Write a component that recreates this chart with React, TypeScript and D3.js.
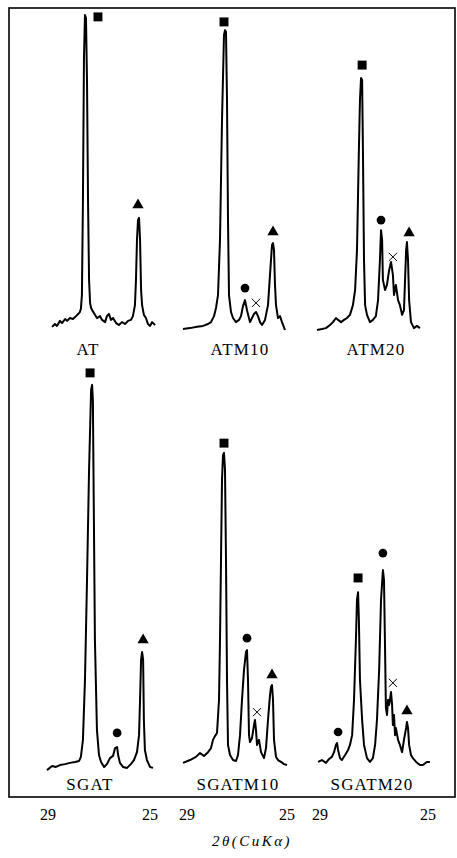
import React from "react";
import * as d3 from "d3";

// traces: [2θ (deg), intensity (a.u.)]
const AT = [[28.84,1.0],[28.73,1.9],[28.65,1.3],[28.53,2.9],[28.45,2.2],[28.33,3.5],[28.25,2.9],[28.14,3.8],[28.02,3.5],[27.90,4.4],[27.78,5.4],[27.75,5.7],[27.71,6.7],[27.67,11.1],[27.63,41],[27.59,86],[27.55,100],[27.51,99],[27.47,79],[27.43,41],[27.39,16],[27.35,8.6],[27.31,7.0],[27.27,6.3],[27.20,5.4],[27.08,3.8],[26.96,4.4],[26.88,3.2],[26.76,2.5],[26.69,4.4],[26.61,5.1],[26.53,3.2],[26.45,3.8],[26.33,2.2],[26.22,1.6],[26.10,2.5],[25.98,1.9],[25.86,2.9],[25.75,3.2],[25.67,4.4],[25.59,7.9],[25.55,15.9],[25.51,28.6],[25.47,34.9],[25.43,35.6],[25.39,28.6],[25.35,12.7],[25.31,7.9],[25.24,4.8],[25.16,3.8],[25.08,1.9],[25.00,1.3],[24.92,2.5],[24.80,1.6]];
const ATM10 = [[29.16,0.3],[28.88,0.6],[28.60,1.0],[28.36,1.3],[28.16,1.9],[28.04,2.5],[27.92,4.4],[27.84,7.0],[27.76,11.1],[27.68,28.6],[27.60,66.7],[27.52,93.7],[27.48,95.2],[27.44,94.6],[27.40,73.0],[27.36,34.9],[27.32,11.1],[27.24,5.7],[27.16,3.8],[27.04,2.5],[26.92,3.2],[26.84,4.4],[26.76,7.6],[26.68,9.5],[26.60,6.3],[26.48,2.5],[26.40,3.8],[26.32,5.1],[26.24,5.7],[26.16,4.4],[26.08,2.5],[26.00,1.6],[25.88,3.2],[25.76,7.9],[25.68,17.5],[25.60,27.0],[25.56,27.6],[25.52,25.4],[25.48,14.3],[25.44,7.9],[25.36,3.8],[25.28,4.4],[25.20,2.5],[25.08,0]];
const ATM20 = [[29.11,0],[28.93,0.3],[28.78,0.6],[28.63,1.6],[28.52,2.5],[28.41,3.8],[28.33,3.2],[28.22,2.5],[28.11,3.2],[28.00,3.8],[27.89,4.8],[27.78,7.9],[27.70,12.7],[27.63,25.4],[27.56,57.1],[27.52,73.0],[27.48,80.0],[27.44,79.4],[27.41,57.1],[27.37,22.2],[27.33,7.9],[27.26,4.8],[27.15,2.5],[27.04,3.2],[26.93,4.4],[26.85,9.5],[26.78,22.2],[26.74,31.7],[26.70,28.6],[26.67,15.9],[26.59,12.7],[26.52,14.3],[26.44,19.0],[26.37,21.6],[26.30,17.5],[26.26,11.1],[26.19,14.3],[26.11,9.5],[26.04,7.9],[25.96,4.8],[25.89,6.3],[25.85,15.9],[25.81,25.4],[25.78,27.9],[25.74,22.2],[25.70,9.5],[25.63,2.5],[25.52,0.6],[25.41,1.3],[25.30,0.6]];
const SGAT = [[29.04,0.6],[28.84,1.9],[28.69,1.6],[28.53,2.2],[28.33,2.5],[28.14,2.9],[27.94,3.2],[27.78,3.5],[27.71,4.8],[27.63,10.2],[27.55,29.2],[27.47,60.9],[27.39,95.9],[27.31,121.3],[27.27,122.9],[27.24,118.1],[27.20,80.0],[27.16,41.9],[27.08,13.3],[27.00,5.4],[26.92,3.2],[26.80,1.6],[26.69,2.5],[26.57,4.4],[26.45,5.1],[26.37,7.6],[26.29,7.9],[26.25,5.4],[26.18,2.9],[26.06,1.6],[25.90,1.3],[25.75,2.5],[25.63,3.8],[25.51,6.3],[25.43,11.7],[25.39,22.9],[25.35,35.6],[25.31,38.1],[25.27,35.6],[25.24,16.5],[25.20,7.0],[25.12,3.8],[25.00,1.6],[24.88,1.3]];
const SGATM10 = [[29.16,2.9],[28.88,3.8],[28.64,4.8],[28.48,6.0],[28.32,5.1],[28.16,6.3],[28.04,7.6],[27.96,10.2],[27.88,11.4],[27.80,12.4],[27.72,22.9],[27.68,41.9],[27.64,67.3],[27.60,92.7],[27.56,100.6],[27.52,101.3],[27.48,95.9],[27.44,67.3],[27.40,29.2],[27.36,8.6],[27.28,5.4],[27.16,3.8],[27.04,3.5],[26.96,5.4],[26.88,11.7],[26.80,22.9],[26.72,32.4],[26.64,38.1],[26.60,38.7],[26.56,29.2],[26.52,11.7],[26.48,9.5],[26.40,10.8],[26.32,14.9],[26.28,16.5],[26.24,13.3],[26.20,8.6],[26.12,10.2],[26.04,6.3],[25.92,4.4],[25.84,7.6],[25.76,16.5],[25.68,24.4],[25.64,27.0],[25.60,27.6],[25.56,22.9],[25.52,10.2],[25.44,4.8],[25.36,3.8],[25.24,3.2],[25.12,2.5],[25.00,2.2]];
const SGATM20 = [[29.07,3.2],[28.93,3.8],[28.78,2.9],[28.67,4.1],[28.56,4.8],[28.48,6.3],[28.41,8.6],[28.37,9.2],[28.33,7.0],[28.26,4.4],[28.19,3.8],[28.07,5.4],[27.96,7.0],[27.89,8.6],[27.81,11.7],[27.74,22.9],[27.67,41.9],[27.63,54.6],[27.59,57.1],[27.56,48.3],[27.52,29.2],[27.44,16.5],[27.37,8.6],[27.26,4.4],[27.15,3.2],[27.04,4.4],[26.96,8.6],[26.89,16.5],[26.81,32.4],[26.74,54.6],[26.67,64.1],[26.63,61.0],[26.59,38.7],[26.56,20.6],[26.52,18.1],[26.48,22.9],[26.44,21.3],[26.41,22.9],[26.37,25.4],[26.33,21.3],[26.30,14.9],[26.26,18.1],[26.22,11.7],[26.19,14.0],[26.11,10.2],[26.04,8.6],[25.96,6.3],[25.89,10.2],[25.81,14.0],[25.78,15.9],[25.74,14.0],[25.70,8.6],[25.63,5.4],[25.56,4.4],[25.44,3.2],[25.30,2.2],[25.19,2.2],[25.04,3.2],[24.93,3.2]];

// phase markers: [symbol, 2θ, intensity]
const AT_MARKS = [["square",27.04,99.4],["triangle",25.47,39.7]];
const ATM10_MARKS = [["square",27.52,97.8],["circle",26.68,13.3],["cross",26.24,8.6],["triangle",25.56,31.1]];
const ATM20_MARKS = [["square",27.44,84.1],["circle",26.74,34.9],["cross",26.30,23.2],["triangle",25.70,30.8]];
const SGAT_MARKS = [["square",27.35,126.7],["circle",26.29,12.4],["triangle",25.27,41.9]];
const SGATM10_MARKS = [["square",27.52,104.4],["circle",26.60,42.5],["cross",26.20,19.0],["triangle",25.60,30.8]];
const SGATM20_MARKS = [["circle",28.33,12.7],["square",27.59,61.6],["circle",26.67,69.5],["cross",26.30,28.3],["triangle",25.78,19.4]];

const SAMPLE_NAMES = ["AT", "ATM10", "ATM20", "SGAT", "SGATM10", "SGATM20"];
const TRACES = [AT, ATM10, ATM20, SGAT, SGATM10, SGATM20];
const MARKS = [AT_MARKS, ATM10_MARKS, ATM20_MARKS, SGAT_MARKS, SGATM10_MARKS, SGATM20_MARKS];
const TICKS = [29, 25];
const AXIS_TITLE = "2θ(CuKα)";

const W = 457, H = 858;
const COLS = [[48, 150], [187, 287], [320, 428]];
const BASES = [330, 772];
const LABEL_Y = [355, 790];
const LABEL_X = [88, 240, 376, 90, 238, 372];
const FONT = "'Liberation Serif', 'DejaVu Serif', serif";

const SYMS: Record<string, any> = {
  square: [d3.symbolSquare, 80],
  circle: [d3.symbolCircle, 60],
  triangle: [d3.symbolTriangle, 55],
  cross: [d3.symbolX, 45],
};

export default function App() {
  const panels = SAMPLE_NAMES.map((name, i) => {
    const col = i % 3, row = Math.floor(i / 3);
    const x = d3.scaleLinear().domain([29, 25]).range(COLS[col]);
    const y = d3.scaleLinear().domain([0, 100]).range([BASES[row], BASES[row] - 315]);
    const line = d3.line<number[]>().x(d => x(d[0])).y(d => y(d[1]));
    return (
      <g key={name}>
        <path d={line(TRACES[i] as number[][]) || ""} fill="none" stroke="#000" strokeWidth={2} strokeLinejoin="round" />
        {MARKS[i].map((m, j) => {
          const [type, size] = SYMS[m[0] as string];
          const stroke = m[0] === "cross";
          return (
            <path key={j}
              transform={`translate(${x(m[1] as number)},${y(m[2] as number)})`}
              d={d3.symbol(type, size)() || ""}
              fill={stroke ? "none" : "#000"}
              stroke={stroke ? "#000" : "none"}
              strokeWidth={1} />
          );
        })}
        <text x={LABEL_X[i]} y={LABEL_Y[row]} textAnchor="middle" fontFamily={FONT} fontSize={17} letterSpacing={1.2}>{name}</text>
        {row === 1 && TICKS.map(t => (
          <text key={t} x={x(t)} y={820} textAnchor="middle" fontFamily={FONT} fontSize={16}>{t}</text>
        ))}
      </g>
    );
  });

  return (
    <svg width={W} height={H} style={{ position: "absolute", left: 0, top: 0, background: "#fff" }}>
      <rect x={9} y={8} width={446} height={789} fill="none" stroke="#000" strokeWidth={1.6} />
      {panels}
      <text x={252} y={846} textAnchor="middle" fontFamily={FONT} fontSize={15} fontStyle="italic" letterSpacing={2.5}>{AXIS_TITLE}</text>
    </svg>
  );
}
